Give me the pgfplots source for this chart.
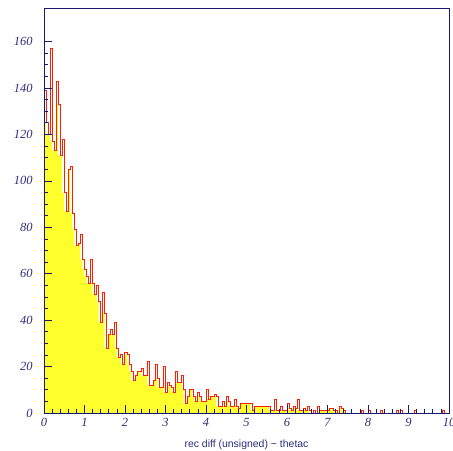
\documentclass[border=0pt]{standalone}
\usepackage{fontspec}
\setmainfont{Liberation Serif}
\newfontfamily\labfont{Liberation Sans}
\usepackage{pgfplots}
\pgfplotsset{compat=1.18}
\definecolor{framenavy}{RGB}{25,25,110}
\definecolor{textnavy}{RGB}{45,45,125}
\definecolor{histyellow}{RGB}{255,255,45}
\definecolor{histred}{RGB}{255,30,0}
\begin{document}
\begin{tikzpicture}
\path[use as bounding box] (-44bp,-38bp) rectangle (409bp,413bp);
\begin{axis}[
  name=ax, at={(0,0)}, anchor=south west,
  scale only axis, width=405bp, height=405bp,
  xmin=0, xmax=10, ymin=0, ymax=174.5,
  axis on top,
  axis line style={framenavy, line width=0.9pt},
  every tick/.style={framenavy, line width=0.8pt},
  tick align=inside, tick pos=left,
  major tick length=8bp, minor tick length=4bp,
  xtick={0,1,...,10}, minor x tick num=4,
  ytick={0,20,...,160}, minor y tick num=3,
  /pgf/number format/assume math mode=true,
  ticklabel style={font=\fontsize{12.5}{13}\selectfont\itshape, text=textnavy},
  xticklabel style={yshift=-2bp},
  yticklabel style={xshift=-8bp},
  xlabel={rec diff (unsigned) − thetac},
  xlabel style={font=\labfont\fontsize{10.5}{12}\selectfont, text=textnavy, yshift=-6bp},
]
\addplot[const plot, fill=histyellow, draw=none] table[row sep=\\, header=false, x expr=\coordindex*0.05, y index=0] {
125\\120\\120\\117\\113\\113\\133\\111\\111\\95\\
87\\87\\105\\86\\79\\72\\72\\73\\66\\62\\
59\\56\\56\\56\\51\\51\\48\\39\\39\\43\\
28\\28\\34\\34\\34\\28\\24\\24\\21\\21\\
25\\21\\18\\14\\14\\16\\18\\18\\16\\16\\
16\\12\\12\\12\\14\\15\\11\\11\\11\\9\\
9\\12\\11\\9\\9\\13\\13\\13\\10\\4\\
4\\7\\10\\7\\5\\5\\7\\5\\5\\5\\
6\\6\\7\\7\\7\\3\\3\\3\\3\\3\\
5\\3\\3\\3\\3\\2\\2\\4\\4\\4\\
4\\4\\1\\1\\3\\3\\3\\3\\3\\3\\
3\\1\\1\\1\\1\\1\\1\\1\\1\\1\\
2\\1\\1\\2\\2\\1\\1\\1\\1\\1\\
1\\0\\0\\0\\0\\1\\1\\1\\1\\1\\
1\\2\\1\\1\\0\\0\\2\\1\\0\\0\\
0\\0\\0\\0\\0\\0\\0\\0\\0\\0\\
0\\0\\0\\0\\0\\0\\0\\0\\0\\0\\
0\\0\\0\\0\\0\\0\\0\\0\\0\\0\\
0\\0\\0\\0\\0\\0\\0\\0\\0\\0\\
0\\0\\0\\0\\0\\0\\0\\0\\0\\0\\
0\\
} \closedcycle;
\addplot[const plot, draw=histred, line width=1bp, mark=none] table[row sep=\\, header=false, x expr=\coordindex*0.05, y index=0] {
139\\125\\120\\157\\117\\113\\143\\133\\111\\118\\
95\\87\\105\\106\\86\\79\\72\\73\\77\\66\\
62\\59\\56\\66\\56\\51\\55\\48\\39\\52\\
43\\28\\34\\36\\34\\39\\28\\24\\25\\21\\
26\\25\\21\\18\\14\\16\\18\\18\\19\\16\\
16\\22\\12\\12\\14\\21\\15\\11\\11\\20\\
9\\13\\12\\11\\9\\18\\13\\13\\16\\10\\
4\\7\\10\\10\\7\\5\\9\\7\\5\\5\\
10\\6\\7\\7\\8\\7\\3\\3\\5\\3\\
7\\5\\3\\3\\6\\3\\2\\4\\4\\4\\
4\\4\\4\\1\\3\\3\\3\\3\\3\\3\\
3\\3\\1\\1\\6\\1\\1\\3\\1\\1\\
4\\2\\1\\3\\2\\6\\1\\1\\2\\1\\
3\\1\\0\\1\\0\\3\\1\\1\\1\\1\\
1\\2\\2\\1\\1\\0\\3\\2\\1\\0\\
0\\0\\0\\0\\0\\0\\0\\1\\0\\0\\
1\\0\\0\\0\\0\\0\\1\\0\\0\\0\\
0\\0\\0\\0\\1\\0\\1\\0\\0\\0\\
0\\0\\0\\1\\0\\0\\0\\0\\0\\0\\
0\\0\\0\\0\\0\\0\\0\\1\\0\\0\\
0\\
};
\end{axis}
\end{tikzpicture}
\end{document}
